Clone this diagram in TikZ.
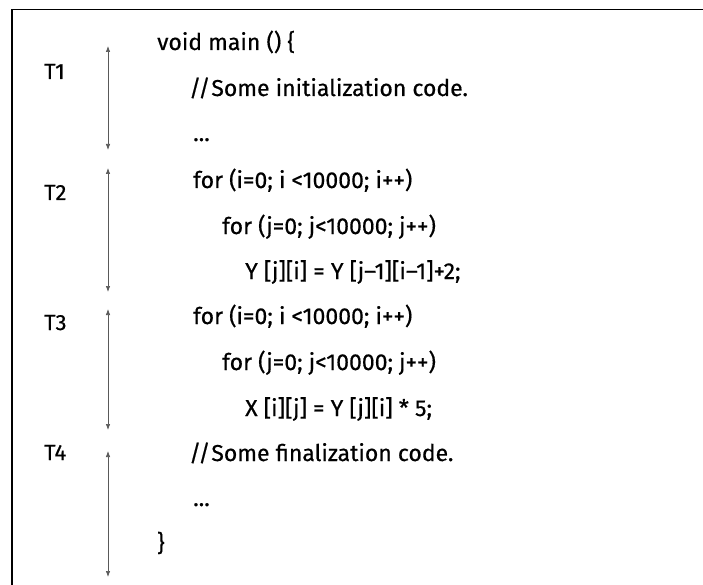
\documentclass[tikz,border=0pt]{standalone}
\usepackage{fontspec}
\setmainfont{Fira Sans}[FakeBold=0.5]
\usetikzlibrary{arrows.meta}
\tikzset{
  code/.style={anchor=base west, inner sep=0pt, font=\fontsize{23}{27}\selectfont},
  tlabel/.style={anchor=base west, inner sep=0pt, font=\fontsize{22}{26}\selectfont},
  span/.style={draw=black!65, line width=0.7pt, {Latex[length=6pt,width=4.5pt]}-{Latex[length=6pt,width=4.5pt]}},
  frame/.style={draw=black, line width=1.2pt}
}
\begin{document}
\begin{tikzpicture}[x=1pt,y=-1pt]
\useasboundingbox (0,0) rectangle (703,585);
% frame (top and left edges)
\coordinate (fbl) at (12,586);
\coordinate (ftl) at (12,9.5);
\coordinate (ftr) at (704,9.5);
\draw[frame] (fbl) -- (ftl) -- (ftr);
% time labels
\node[tlabel] (T1) at (44,79) {T1};
\node[tlabel] (T2) at (44,200) {T2};
\node[tlabel] (T3) at (44,330) {T3};
\node[tlabel] (T4) at (44,460) {T4};
% spans
\coordinate (a1) at (108,46);  \coordinate (b1) at (108,150);
\coordinate (a2) at (108,168); \coordinate (b2) at (108,292);
\coordinate (a3) at (108,309); \coordinate (b3) at (108,430);
\coordinate (a4) at (108,451); \coordinate (b4) at (108,577);
\draw[span] (a1) -- (b1);
\draw[span] (a2) -- (b2);
\draw[span] (a3) -- (b3);
\draw[span] (a4) -- (b4);
% code
\node[code] (c1) at (157,50) {void main () \{};
\node[code] (c2) at (189,96) {//\kern1pt Some initialization code.};
\node[code] (c3) at (193,141) {...};
\node[code] (c4) at (193,188) {for (i=0; i <10000; i++)};
\node[code] (c5) at (222,234) {for (j=0; j<10000; j++)};
\node[code] (c6) at (245,279) {Y [j][i] = Y [j–1][i–1]+2;};
\node[code] (c7) at (193,324) {for (i=0; i <10000; i++)};
\node[code] (c8) at (222,370) {for (j=0; j<10000; j++)};
\node[code] (c9) at (245,416) {X [i][j] = Y [j][i] * 5;};
\node[code] (c10) at (189,461) {//\kern1pt Some finalization code.};
\node[code] (c11) at (193,506) {...};
\node[code] (c12) at (157,551) {\}};
\end{tikzpicture}
\end{document}
